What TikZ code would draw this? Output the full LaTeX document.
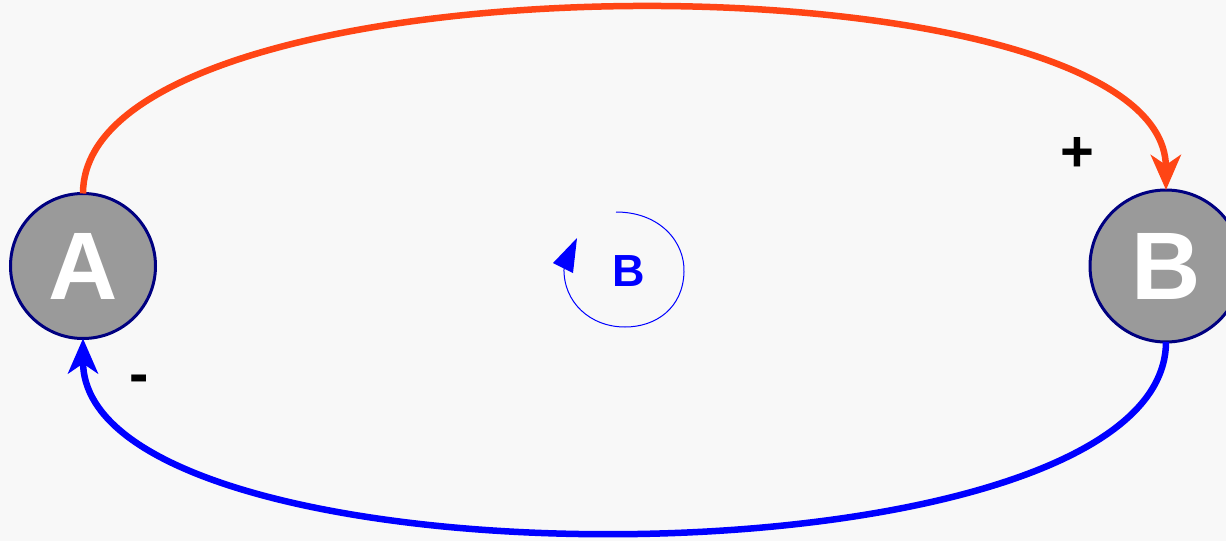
\documentclass[tikz,border=0pt]{standalone}
\usepackage{fontspec}
\setmainfont{Liberation Sans}
\usetikzlibrary{arrows.meta}
\definecolor{bg}{HTML}{F8F8F8}
\definecolor{nodefill}{HTML}{9A9A9A}
\definecolor{nodeedge}{HTML}{000080}
\definecolor{redarc}{HTML}{FF4515}
\definecolor{bluearc}{HTML}{0000FF}
\tikzset{
  var/.style={circle, draw=nodeedge, line width=3pt, fill=nodefill, text=white,
    font=\fontsize{96}{96}\selectfont\bfseries, inner sep=0pt, outer sep=0pt},
  link/.style={line width=6.5pt, -{Stealth[length=35pt,width=30pt,inset=10pt]}},
  sign/.style={font=\fontsize{58}{58}\selectfont\bfseries, text=black, inner sep=0pt}
}
\begin{document}
\begin{tikzpicture}[x=1pt,y=-1pt]
\fill[bg] (0,0) rectangle (1226,541);
\useasboundingbox (0,0) rectangle (1226,541);
\clip (0,0) rectangle (1226,541);
\node[var, minimum size=145pt] (A) at (83,266) {A};
\node[var, minimum size=152pt] (B) at (1166,266) {B};
\draw[link, redarc] (A.north) .. controls (83,-52) and (1165,-52) .. (B.north);
\draw[link, bluearc] (B.south) .. controls (1165,595) and (83,595) .. (A.south);
\node[sign] (plus) at (1077,154) {+};
\node[sign] (minus) at (139,384) {-};
\node[font=\fontsize{45}{45}\selectfont\bfseries, text=bluearc] (loop) at (629,271) {B};
\coordinate (ls) at (616,212);
\coordinate (le) at (564,268);
\draw[bluearc, line width=1pt] (ls) .. controls (660,212) and (685,242) .. (684,272)
  .. controls (683,308) and (656,327) .. (625,327)
  .. controls (590,327) and (563,302) .. (le);
\fill[bluearc] (553,263) -- (577,238) -- (573,273) -- cycle;
\end{tikzpicture}
\end{document}
